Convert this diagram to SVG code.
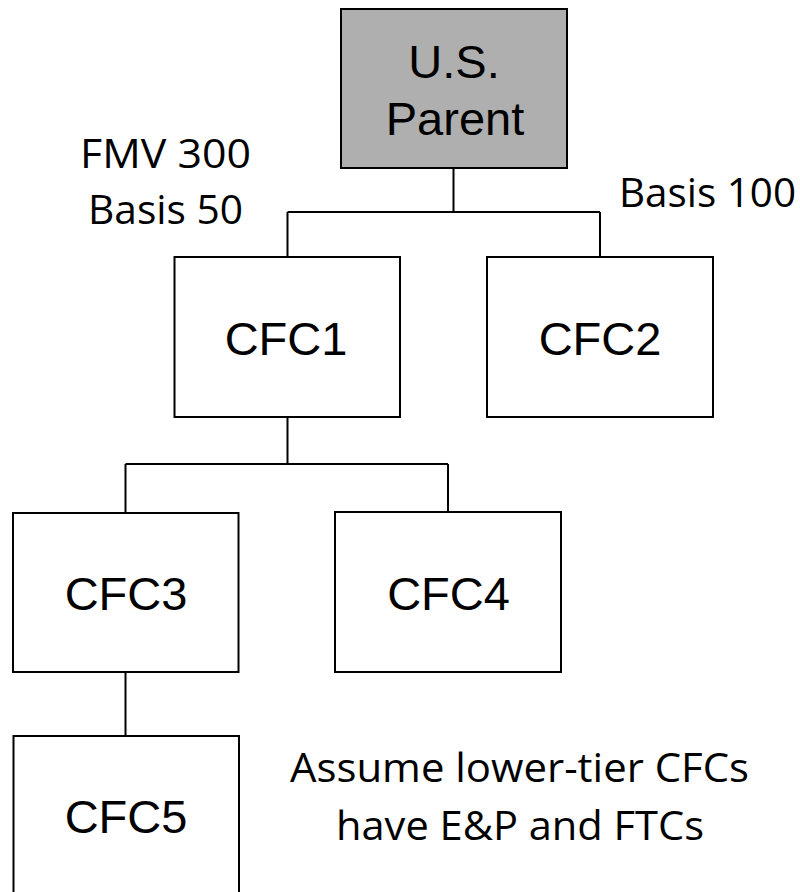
<svg xmlns="http://www.w3.org/2000/svg" width="800" height="892" viewBox="0 0 800 892">
<style>
.box{fill:#ffffff;stroke:#000000;stroke-width:2}
.parent{fill:#afafaf;stroke:#000000;stroke-width:2}
.lbl{font-family:"Liberation Sans",Arial,sans-serif;font-size:47px;fill:#000000;text-anchor:middle}
.note{font-family:"Open Sans","Noto Sans",sans-serif;font-size:41px;fill:#000000}
.conn{fill:none;stroke:#000000;stroke-width:2}
</style>
<rect width="800" height="892" fill="#ffffff"/>
<g id="connectors">
<path class="conn" d="M453.5,168 V212 M287.5,212 H600 M287.5,212 V257 M600,212 V257"/>
<path class="conn" d="M287.5,417 V464 M125.5,464 H448 M125.5,464 V513 M448,464 V512"/>
<path class="conn" d="M125.5,672 V736"/>
</g>
<g id="parent">
<rect class="parent" x="341" y="9" width="226" height="159"/>
<text class="lbl" x="454" y="78">U.S.</text>
<text class="lbl" x="455" y="135">Parent</text>
</g>
<g id="cfc1">
<rect class="box" x="174.5" y="257" width="225.5" height="160"/>
<text class="lbl" x="286" y="355">CFC1</text>
</g>
<g id="cfc2">
<rect class="box" x="487" y="257" width="226" height="160"/>
<text class="lbl" x="600" y="355">CFC2</text>
</g>
<g id="cfc3">
<rect class="box" x="13" y="513" width="225.5" height="159"/>
<text class="lbl" x="126" y="610">CFC3</text>
</g>
<g id="cfc4">
<rect class="box" x="335" y="512" width="226" height="160"/>
<text class="lbl" x="448.5" y="610">CFC4</text>
</g>
<g id="cfc5">
<rect class="box" x="13.5" y="736" width="225.5" height="170"/>
<text class="lbl" x="126" y="833">CFC5</text>
</g>
<g id="notes">
<text class="note" x="80" y="168" textLength="171" lengthAdjust="spacingAndGlyphs">FMV 300</text>
<text class="note" x="88" y="224" textLength="155" lengthAdjust="spacingAndGlyphs">Basis 50</text>
<text class="note" x="619" y="207" textLength="177" lengthAdjust="spacingAndGlyphs">Basis 100</text>
<text class="note" x="290" y="782" textLength="459" lengthAdjust="spacingAndGlyphs">Assume lower-tier CFCs</text>
<text class="note" x="336" y="840" textLength="368" lengthAdjust="spacingAndGlyphs">have E&amp;P and FTCs</text>
</g>
</svg>
